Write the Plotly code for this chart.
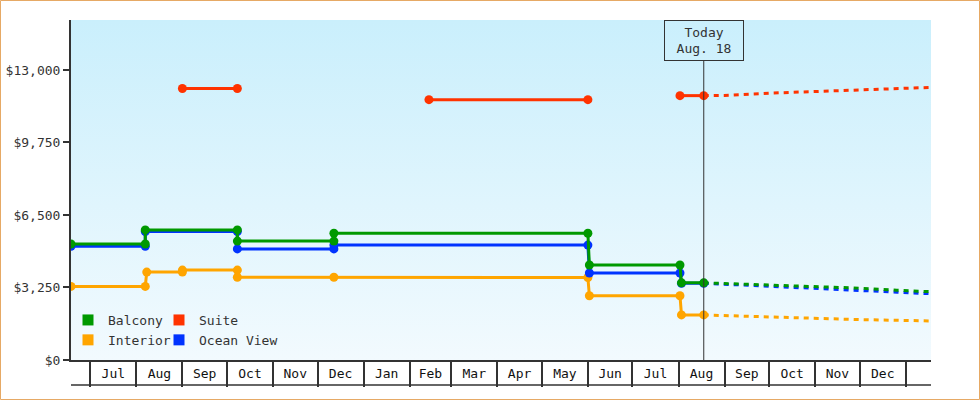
import base64
import pandas as pd
import plotly.graph_objects as go

# ---------------- data ----------------
MONTHS = ["Jul", "Aug", "Sep", "Oct", "Nov", "Dec", "Jan", "Feb", "Mar",
          "Apr", "May", "Jun", "Jul", "Aug", "Sep", "Oct", "Nov", "Dec"]
FIRST_MONTH = "2013-07-01"
X_START = "2013-06-18"
X_END = "2015-01-18"
TODAY = "2014-08-18"
TODAY_LABEL = "Today<br>Aug. 18"

Y_TICKS = [0, 3250, 6500, 9750, 13000]
Y_MAX = 15240

balcony_dates = ["2013-06-18", "2013-08-07", "2013-08-07", "2013-10-08", "2013-10-08",
                 "2013-12-12", "2013-12-12", "2014-06-01", "2014-06-02", "2014-08-02",
                 "2014-08-03", "2014-08-18"]
balcony_prices = [5200, 5200, 5830, 5830, 5330, 5330, 5680, 5680, 4260, 4260, 3460, 3460]

ocean_dates = balcony_dates
ocean_prices = [5100, 5100, 5760, 5760, 4980, 4980, 5150, 5150, 3900, 3900, 3440, 3440]

interior_dates = ["2013-06-18", "2013-08-07", "2013-08-08", "2013-09-01", "2013-09-01",
                  "2013-10-08", "2013-10-08", "2013-12-12", "2014-06-01", "2014-06-02",
                  "2014-08-02", "2014-08-03", "2014-08-18"]
interior_prices = [3300, 3300, 3940, 3940, 4030, 4030, 3710, 3710, 3700, 2880, 2880, 2020, 2020]

suite_dates = ["2013-09-01", "2013-10-08", "2013-12-01", "2014-02-14", "2014-06-01",
               "2014-07-01", "2014-08-02", "2014-08-18"]
suite_prices = [12170, 12170, None, 11670, 11670, None, 11850, 11850]

forecast_dates = ["2014-08-18", "2014-09-01", "2014-10-01", "2014-11-01",
                  "2014-12-01", "2014-12-26", "2015-01-18"]
balcony_forecast = [3460, 3430, 3370, 3280, 3220, 3130, 3060]
ocean_forecast = [3440, 3400, 3320, 3220, 3140, 3040, 2970]
interior_forecast = [2020, 1990, 1930, 1870, 1810, 1780, 1750]
suite_forecast = [11850, 11860, 11960, 12035, 12095, 12145, 12220]

# ---------------- style ----------------
FONT = "DejaVu Sans Mono"
INK = "#333333"
C_BALCONY = "#009900"
C_SUITE = "#FF3300"
C_INTERIOR = "#FFA500"
C_OCEAN = "#0033FF"
BORDER = "#E6A965"

W, H = 980, 400
ML, MR, MT, MB = 71, 49, 20, 15
BOX_H = 25  # height of the month box row under the axis
PW, PH = W - ML - MR, H - MT - MB

fig = go.Figure()


def history(dates, prices, color, name):
    fig.add_trace(go.Scatter(
        x=dates, y=prices, mode="lines+markers", name=name, showlegend=False,
        line=dict(color=color, width=3), marker=dict(color=color, size=9),
        connectgaps=False, hoverinfo="x+y"))


def forecast(dates, prices, color, name):
    fig.add_trace(go.Scatter(
        x=dates, y=prices, mode="lines", name=name + " forecast", showlegend=False,
        line=dict(color=color, width=3, dash="5px,5px"), hoverinfo="x+y"))


forecast(forecast_dates, interior_forecast, C_INTERIOR, "Interior")
forecast(forecast_dates, ocean_forecast, C_OCEAN, "Ocean View")
forecast(forecast_dates, balcony_forecast, C_BALCONY, "Balcony")
forecast(forecast_dates, suite_forecast, C_SUITE, "Suite")
history(interior_dates, interior_prices, C_INTERIOR, "Interior")
history(ocean_dates, ocean_prices, C_OCEAN, "Ocean View")
history(balcony_dates, balcony_prices, C_BALCONY, "Balcony")
history(suite_dates, suite_prices, C_SUITE, "Suite")

# legend entries (square swatches)
for name, color, leg in [("Balcony", C_BALCONY, "legend"), ("Interior", C_INTERIOR, "legend"),
                         ("Suite", C_SUITE, "legend2"), ("Ocean View", C_OCEAN, "legend2")]:
    fig.add_trace(go.Scatter(x=[None], y=[None], mode="markers", name=name, legend=leg,
                             marker=dict(symbol="square", size=11, color=color)))

# month boundaries and mid-month label positions
starts = pd.date_range(FIRST_MONTH, periods=len(MONTHS) + 1, freq="MS")
mids = [(starts[i] + (starts[i + 1] - starts[i]) / 2).strftime("%Y-%m-%d %H:%M")
        for i in range(len(MONTHS))]
start_vals = [s.strftime("%Y-%m-%d") for s in starts]
y_labels = ["$" + format(v, ",") for v in Y_TICKS]

# gradient background for the plot area
svg = ('<svg xmlns="http://www.w3.org/2000/svg" width="100" height="100" viewBox="0 0 100 100" '
       'preserveAspectRatio="none"><defs><linearGradient id="g" x1="0" y1="0" x2="0" y2="1">'
       '<stop offset="0" stop-color="#CAEFFC"/><stop offset="1" stop-color="#F2FAFE"/>'
       '</linearGradient></defs><rect width="100" height="100" fill="url(#g)"/></svg>')
src = "data:image/svg+xml;base64," + base64.b64encode(svg.encode()).decode()

legend_common = dict(xanchor="left", yanchor="top", bgcolor="rgba(0,0,0,0)",
                     font=dict(family=FONT, size=13, color=INK), tracegroupgap=0,
                     borderwidth=0)

fig.update_layout(
    width=W, height=H,
    margin=dict(l=ML, r=MR, t=MT, b=MB, pad=0, autoexpand=False),
    paper_bgcolor="white", plot_bgcolor="rgba(0,0,0,0)",
    font=dict(family=FONT, size=13, color=INK),
    images=[dict(source=src, xref="x domain", yref="y domain", x=0, y=1, sizex=1, sizey=1,
                 xanchor="left", yanchor="top", sizing="stretch", layer="below")],
    xaxis=dict(type="date", range=[X_START, X_END], automargin=False,
               tickmode="array", tickvals=mids, ticktext=MONTHS, ticks="",
               tickfont=dict(family=FONT, size=13, color="#111"),
               minor=dict(tickmode="array", tickvals=start_vals, ticks="outside",
                          ticklen=BOX_H, tickwidth=1.5, tickcolor=INK, showgrid=False),
               showline=True, linewidth=2, linecolor=INK, showgrid=False, zeroline=False),
    yaxis=dict(range=[0, Y_MAX], domain=[BOX_H / PH, 1], automargin=False,
               tickmode="array", tickvals=Y_TICKS, ticktext=y_labels,
               tickfont=dict(family=FONT, size=13, color=INK),
               ticks="outside", ticklen=6, tickwidth=2,
               tickcolor=INK, showline=True, linewidth=2, linecolor=INK,
               showgrid=False, zeroline=False),
    legend=dict(x=(68 - ML) / PW, y=(H - MB - 305) / PH, **legend_common),
    legend2=dict(x=(159 - ML) / PW, y=(H - MB - 305) / PH, **legend_common),
    showlegend=True,
    annotations=[dict(x=TODAY, xref="x", y=1, yref="y domain", yanchor="top", xanchor="center",
                      text=TODAY_LABEL, showarrow=False, font=dict(family=FONT, size=13, color=INK),
                      bordercolor=INK, borderwidth=1, borderpad=4, width=70, height=31,
                      bgcolor="rgba(0,0,0,0)")],
    shapes=[
        dict(type="line", xref="x", yref="y domain", x0=TODAY, x1=TODAY, y0=0,
             y1=1 - 41 / (PH - BOX_H), line=dict(color=INK, width=1)),
        dict(type="line", xref="paper", yref="paper", x0=0, x1=1, y0=0, y1=0,
             line=dict(color=INK, width=1.5)),
        dict(type="rect", xref="paper", yref="paper",
             x0=(0.5 - ML) / PW, x1=(W - 0.5 - ML) / PW,
             y0=(H - MB - (H - 0.5)) / PH, y1=(H - MB - 0.5) / PH,
             line=dict(color=BORDER, width=1), fillcolor="rgba(0,0,0,0)", layer="above"),
    ],
)

fig.write_html("out.html", config={"displayModeBar": False},
               post_script="document.body.style.margin='0';document.body.style.overflow='hidden';")
